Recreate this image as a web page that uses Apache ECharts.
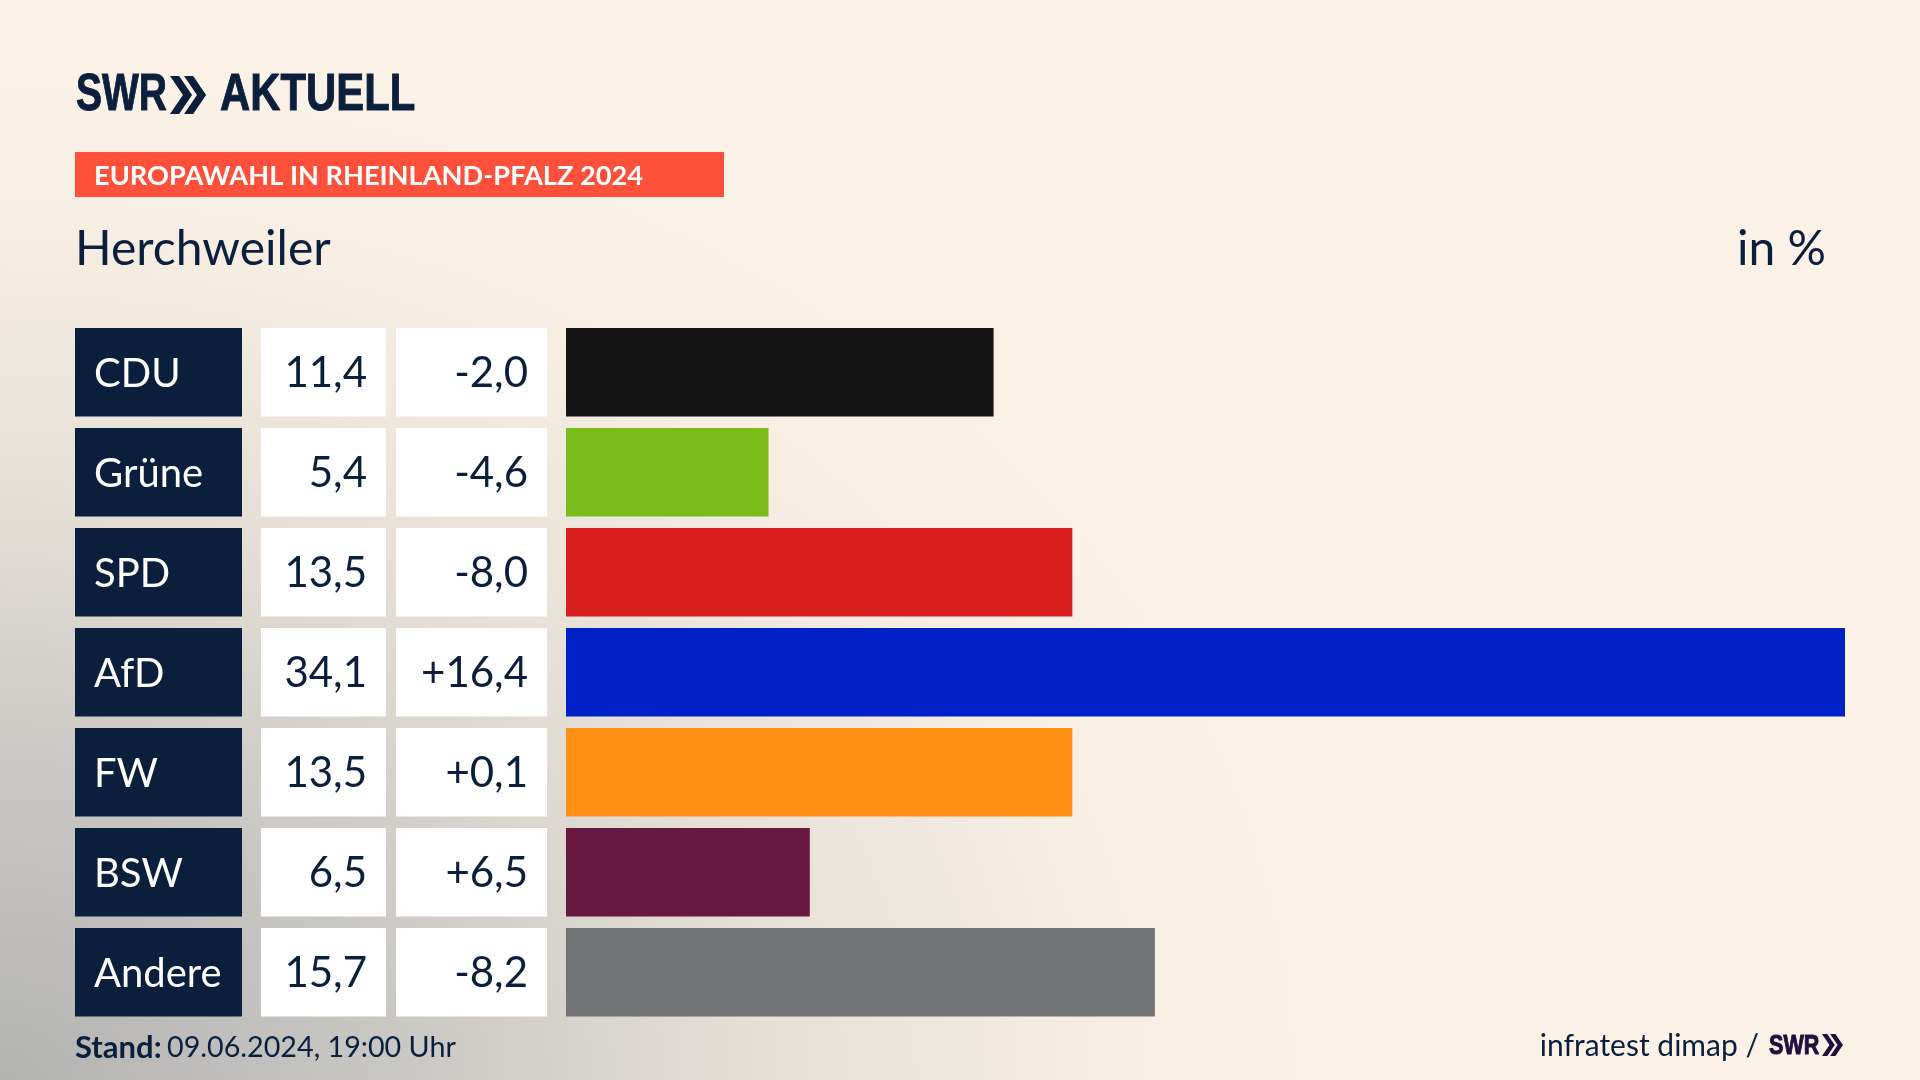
<!DOCTYPE html>
<html>
<head>
<meta charset="utf-8">
<title>Europawahl Herchweiler</title>
<script src="https://cdn.jsdelivr.net/npm/echarts@6/dist/echarts.min.js"></script>
<style>
  html, body { margin: 0; padding: 0; width: 1920px; height: 1080px; overflow: hidden; }
  body {
    background-color: #fbf2e7;
    background-image: radial-gradient(ellipse 1300px 1000px at 0px 1080px, #b3b3b2 0%, #c9c7c4 30%, #e6e0d8 60%, #f6eee3 85%, #fbf2e7 100%);
  }
  #main { width: 1920px; height: 1080px; }
</style>
</head>
<body>
<div id="main"></div>
<script>
var parties = ['CDU', 'Grüne', 'SPD', 'AfD', 'FW', 'BSW', 'Andere']
var shares = [11.4, 5.4, 13.5, 34.1, 13.5, 6.5, 15.7]
var changes = [-2.0, -4.6, -8.0, 16.4, 0.1, 6.5, -8.2]

var navy = '#0b1f3d'
var purple = '#1f0f3f'
var barColors = ['#141414', '#7abd1a', '#d71f1d', '#0021c8', '#ff8f14', '#66183f', '#727375']
var font = 'Lato, "Noto Sans", sans-serif'
var logoFont = '"Liberation Sans", sans-serif'

function comma(v) {
  return v.toFixed(1).replace('.', ',')
}
function signed(v) {
  return (v > 0 ? '+' : '') + comma(v)
}

// eine Textspalte links neben den Balken, als eigene Kategorieachse
function column(labels, offset, boxWidth, textColor, boxColor, align, fontSize) {
  return {
    type: 'category',
    inverse: true,
    data: labels,
    position: 'left',
    offset: offset,
    axisLine: { show: false },
    axisTick: { show: false },
    axisLabel: {
      interval: 0,
      margin: 19,
      formatter: function (v) { return '{box|' + v + '}' },
      rich: {
        box: {
          width: boxWidth,
          height: 85.5,
          lineHeight: 85.5,
          align: align,
          padding: align == 'left' ? [3, 0, 0, 19] : [3, 19, 0, 0],
          backgroundColor: boxColor,
          color: textColor,
          fontFamily: font,
          fontSize: fontSize
        }
      }
    }
  }
}

function chevrons(x, y, h, color) {
  var t = h * 0.24
  var d = h * 0.34
  var gap = h * 0.37
  var out = []
  for (var i = 0; i < 2; i++) {
    var x0 = x + i * gap
    out.push({
      type: 'polygon',
      shape: { points: [[x0, y], [x0 + t, y], [x0 + t + d, y + h / 2], [x0 + t, y + h], [x0, y + h], [x0 + d, y + h / 2]] },
      style: { fill: color }
    })
  }
  return out
}

function text(str, x, y, size, weight, color, align) {
  return {
    type: 'text',
    x: x,
    y: y,
    style: {
      text: str,
      fill: color,
      font: weight + ' ' + size + 'px ' + font,
      textAlign: align || 'left',
      textVerticalAlign: 'middle'
    }
  }
}

// Logo-Schrift: schmal gezogen, damit sie zur Wortmarke passt
function logoText(str, x, y, size, scaleX, color) {
  return {
    type: 'text',
    x: x,
    y: y,
    scaleX: scaleX,
    style: {
      text: str,
      fill: color,
      stroke: color,
      lineWidth: 1,
      font: 'bold ' + size + 'px ' + logoFont,
      textAlign: 'left',
      textVerticalAlign: 'middle'
    }
  }
}

var graphics = [
  logoText('SWR', 76, 96, 52, 0.75, navy),
  logoText('AKTUELL', 220, 96, 52, 0.805, navy),
  { type: 'rect', shape: { x: 75, y: 152, width: 649, height: 45 }, style: { fill: '#ff503c' } },
  text('EUROPAWAHL IN RHEINLAND-PFALZ 2024', 94, 176, 27.2, 'bold', '#ffffff'),
  text('Herchweiler', 75, 250, 48, 'normal', navy),
  text('in %', 1826, 250, 48, 'normal', navy, 'right'),
  text('Stand:', 75, 1048, 31, 'bold', navy),
  text('09.06.2024, 19:00 Uhr', 167, 1048, 28.7, 'normal', navy),
  text('infratest dimap /', 1759, 1046, 30, 'normal', navy, 'right'),
  logoText('SWR', 1769, 1046, 28, 0.77, purple)
].concat(chevrons(170, 76, 38, navy), chevrons(1822, 1034, 22, purple))

var myChart = echarts.init(document.getElementById('main'))
var option = {
  animation: false,
  grid: { left: 566, top: 322.25, width: 1279, height: 700 },
  xAxis: { type: 'value', min: 0, max: 34.1, show: false },
  yAxis: [
    column(shares.map(comma), 161, 106, navy, '#ffffff', 'right', 42),
    column(changes.map(signed), 0, 132, navy, '#ffffff', 'right', 42),
    column(parties, 305, 148, '#ffffff', navy, 'left', 40)
  ],
  series: [
    {
      type: 'bar',
      yAxisIndex: 0,
      data: shares,
      barWidth: 88.5,
      itemStyle: {
        color: function (p) { return barColors[p.dataIndex] }
      }
    }
  ],
  graphic: graphics
}
myChart.setOption(option)
</script>
</body>
</html>
